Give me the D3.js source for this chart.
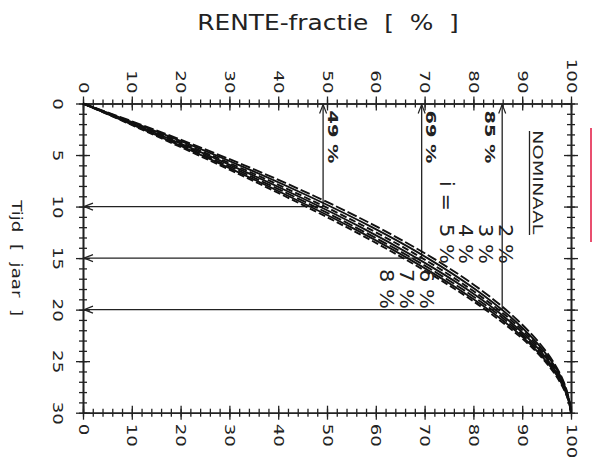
<!DOCTYPE html>
<html>
<head>
<meta charset="utf-8">
<script src="https://cdn.jsdelivr.net/npm/d3@7"></script>
<style>
body { margin: 0; background: #fff; }
svg text { font-family: "DejaVu Sans", sans-serif; fill: #222; white-space: pre; }
</style>
</head>
<body>
<svg id="chart" width="596" height="457"></svg>
<script>
// time (years) at which the curves were read
var years = [0, 3, 6, 9, 12, 15, 18, 21, 24, 27, 29, 30];
// nominal interest rates (%)
var rates = [2, 3, 4, 5, 6, 7, 8];
// cumulative interest fraction (%) per rate
var frac2 = [0, 17.2, 33.1, 47.5, 60.4, 71.7, 81.3, 89.0, 94.8, 98.5, 99.7, 100];
var frac3 = [0, 16.6, 32.1, 46.3, 59.2, 70.6, 80.3, 88.3, 94.4, 98.4, 99.7, 100];
var frac4 = [0, 16.0, 31.1, 45.1, 58.0, 69.5, 79.4, 87.7, 94.0, 98.2, 99.7, 100];
var frac5 = [0, 15.5, 30.3, 44.1, 56.9, 68.4, 78.6, 87.1, 93.7, 98.1, 99.7, 100];
var frac6 = [0, 15.1, 29.5, 43.1, 55.8, 67.4, 77.7, 86.5, 93.3, 98.0, 99.65, 100];
var frac7 = [0, 14.7, 28.8, 42.2, 54.9, 66.5, 76.9, 85.9, 93.0, 97.9, 99.6, 100];
var frac8 = [0, 14.3, 28.1, 41.4, 54.0, 65.6, 76.2, 85.3, 92.7, 97.7, 99.6, 100];
var fracs = [frac2, frac3, frac4, frac5, frac6, frac7, frac8];

// reading lines
var annYears = [10, 15, 20];
var annFrac = [49.2, 69.4, 85.9];
var annLabels = ["49 %", "69 %", "85 %"];

// tick labels
var pctTicks = [0, 10, 20, 30, 40, 50, 60, 70, 80, 90, 100];
var yearTicks = [0, 5, 10, 15, 20, 25, 30];

var svg = d3.select("#chart");

var plotLeft = 83, plotRight = 571, plotTop = 103.5, plotBottom = 412.7;
var stretch = 1.3;

var xScale = d3.scaleLinear().domain([0, 100]).range([plotLeft, plotRight]);
var yScale = d3.scaleLinear().domain([0, 30]).range([plotTop, plotBottom]);

// ticks crossing the axis line
function cross(g) {
	g.selectAll(".tick line").each(function() {
		var l = d3.select(this);
		if (l.attr("y2") != null) l.attr("y1", -l.attr("y2"));
		if (l.attr("x2") != null) l.attr("x1", -l.attr("x2"));
	});
	g.select(".domain").attr("stroke-width", 1.6);
	g.selectAll(".tick line").attr("stroke-width", 1.3);
	g.attr("font-size", 14).attr("font-family", null).style("color", "#222");
}

function addAxis(minorAxis, tx, ty, major, minor) {
	svg.append("g")
		.attr("transform", "translate(" + tx + "," + ty + ")")
		.call(minorAxis.tickValues(minor).tickSize(4).tickSizeOuter(0).tickFormat(""))
		.call(cross);
	return svg.append("g")
		.attr("transform", "translate(" + tx + "," + ty + ")")
		.call(major)
		.call(cross);
}

var pctMinor = d3.range(0, 101, 2);
var yearMinor = d3.range(0, 31, 1);

var topAxis = addAxis(d3.axisTop(xScale), 0, plotTop,
	d3.axisTop(xScale).tickValues(pctTicks).tickSize(7).tickSizeOuter(0), pctMinor);
topAxis.selectAll("text")
	.attr("x", null).attr("y", null).attr("dy", null)
	.attr("text-anchor", "end")
	.attr("transform", "translate(-5,-10) rotate(90) scale(" + stretch + ",1)");

var bottomAxis = addAxis(d3.axisBottom(xScale), 0, plotBottom,
	d3.axisBottom(xScale).tickValues(pctTicks).tickSize(7).tickSizeOuter(0), pctMinor);
bottomAxis.selectAll("text")
	.attr("x", null).attr("y", null).attr("dy", null)
	.attr("text-anchor", "start")
	.attr("transform", "translate(-5,11) rotate(90) scale(" + stretch + ",1)");

var leftAxis = addAxis(d3.axisLeft(yScale), plotLeft, 0,
	d3.axisLeft(yScale).tickValues(yearTicks).tickSize(7).tickSizeOuter(0), yearMinor);
leftAxis.selectAll("text")
	.attr("x", null).attr("y", null).attr("dy", null)
	.attr("text-anchor", "middle")
	.attr("transform", "translate(-30,0) rotate(90) scale(" + stretch + ",1)");

addAxis(d3.axisRight(yScale), plotRight, 0,
	d3.axisRight(yScale).tickValues(yearTicks).tickSize(7).tickSizeOuter(0).tickFormat(""), yearMinor);

// titles
svg.append("text")
	.attr("transform", "translate(" + ((plotLeft + plotRight) / 2 + 1) + ",30) scale(1.13,1)")
	.attr("text-anchor", "middle")
	.attr("font-size", 22)
	.text("RENTE-fractie  [  %  ]");

svg.append("text")
	.attr("transform", "translate(12," + ((plotTop + plotBottom) / 2) + ") rotate(90) scale(" + stretch + ",1)")
	.attr("text-anchor", "middle")
	.attr("font-size", 14)
	.text("Tijd  [  jaar  ]");

// arrow head
svg.append("defs").append("marker")
	.attr("id", "arrow")
	.attr("viewBox", "-10 -5 12 10")
	.attr("markerWidth", 12).attr("markerHeight", 10)
	.attr("markerUnits", "userSpaceOnUse")
	.attr("refX", 0).attr("refY", 0)
	.attr("orient", "auto")
	.append("path")
	.attr("d", "M-9,-3.5L0,0L-9,3.5")
	.attr("fill", "none")
	.attr("stroke", "#222")
	.attr("stroke-width", 1.2);

// reading lines
annYears.forEach(function(t, i) {
	var px = xScale(annFrac[i]), py = yScale(t);
	svg.append("line")
		.attr("x1", px).attr("y1", py).attr("x2", plotLeft + 1).attr("y2", py)
		.attr("stroke", "#222").attr("stroke-width", 1.3)
		.attr("marker-end", "url(#arrow)");
	svg.append("line")
		.attr("x1", px).attr("y1", py).attr("x2", px).attr("y2", plotTop + 1)
		.attr("stroke", "#222").attr("stroke-width", 1.3)
		.attr("marker-end", "url(#arrow)");
	var bx = i < 2 ? px + 4.5 : px - 17;
	svg.append("text")
		.attr("transform", "translate(" + bx + "," + (plotTop + 7) + ") rotate(90) scale(1.38,1)")
		.attr("font-size", 14)
		.attr("font-weight", "bold")
		.text(annLabels[i]);
});

// curves
var dashes = ["10,3", null, "7,3", null, "10,3", null, "7,3"];
var line = d3.line()
	.x(d => xScale(d.f))
	.y(d => yScale(d.t))
	.curve(d3.curveMonotoneY);

var series = rates.map((r, i) => years.map((t, j) => ({t: t, f: fracs[i][j]})));

svg.selectAll(".curve")
	.data(series)
	.enter()
	.append("path")
	.classed("curve", true)
	.attr("d", line)
	.attr("fill", "none")
	.attr("stroke", "#111")
	.attr("stroke-width", 1.9)
	.attr("stroke-dasharray", (d, i) => dashes[i]);

// legend
svg.append("text")
	.attr("transform", "translate(533,130) rotate(90) scale(1.38,1)")
	.attr("font-size", 14)
	.text("NOMINAAL");
svg.append("line")
	.attr("x1", 529.5).attr("y1", 131).attr("x2", 529.5).attr("y2", 235)
	.attr("stroke", "#222").attr("stroke-width", 1.3);

var legendX0 = 499, legendStep = 19.8;
rates.forEach(function(r, i) {
	svg.append("text")
		.attr("transform", "translate(" + (legendX0 - legendStep * i) + "," + (i < 4 ? 224 : 269) + ") rotate(90) scale(1.1,1)")
		.attr("font-size", 19)
		.text(r + " %");
});
svg.append("text")
	.attr("transform", "translate(" + (legendX0 - legendStep * 3) + ",181) rotate(90) scale(1.1,1)")
	.attr("font-size", 19)
	.text("i =");

// pen mark at the right edge
svg.append("line")
	.attr("x1", 591).attr("y1", 128).attr("x2", 591).attr("y2", 242)
	.attr("stroke", "#e94f6f").attr("stroke-width", 2);
</script>
</body>
</html>
